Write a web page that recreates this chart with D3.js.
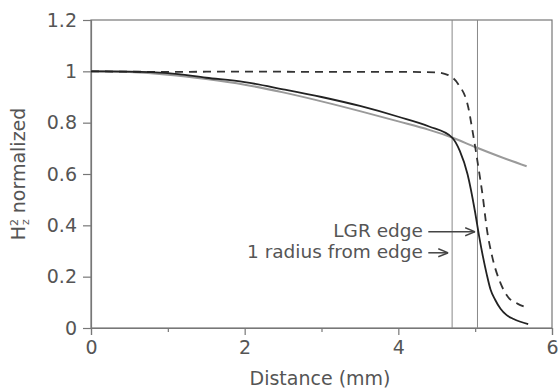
<!DOCTYPE html>
<html>
<head>
<meta charset="utf-8">
<script src="https://cdn.jsdelivr.net/npm/d3@7"></script>
<style>
  body { margin: 0; background: #fff; }
  text { font-family: "DejaVu Sans", sans-serif; fill: #555; }
</style>
</head>
<body>
<svg width="558" height="389"></svg>
<script>
// black solid curve
var solidX = [0, 0.5, 1, 1.5, 2, 2.5, 3, 3.5, 4, 4.4, 4.7, 4.8, 4.9, 5.0, 5.05, 5.1, 5.15, 5.2, 5.26, 5.33, 5.41, 5.5, 5.69];
var solidY = [1, 0.999, 0.993, 0.975, 0.958, 0.93, 0.9, 0.865, 0.823, 0.785, 0.742, 0.69, 0.6, 0.45, 0.36, 0.28, 0.21, 0.15, 0.11, 0.075, 0.05, 0.035, 0.015];
// gray solid curve
var grayX = [0, 0.5, 1, 1.5, 2, 2.5, 3, 3.5, 4, 4.4, 4.7, 5.0, 5.3, 5.67];
var grayY = [1, 0.997, 0.987, 0.97, 0.948, 0.918, 0.883, 0.845, 0.805, 0.772, 0.742, 0.705, 0.67, 0.63];
// dashed curve
var dashX = [0, 1, 2, 3, 4, 4.5, 4.65, 4.78, 4.91, 4.97, 5.04, 5.1, 5.15, 5.22, 5.33, 5.43, 5.55, 5.67];
var dashY = [1, 0.998, 0.999, 0.998, 0.998, 0.996, 0.985, 0.95, 0.86, 0.76, 0.63, 0.51, 0.39, 0.28, 0.175, 0.12, 0.095, 0.08];

var edges = [4.7, 5.03];
var xTicks = [0, 2, 4, 6];
var xMinor = [1, 3, 5];
var yTicks = [0, 0.2, 0.4, 0.6, 0.8, 1, 1.2];
var yTickLabels = ["0", "0.2", "0.4", "0.6", "0.8", "1", "1.2"];

var svg = d3.select("svg");
var x = d3.scaleLinear().domain([0, 6]).range([91, 552]);
var y = d3.scaleLinear().domain([0, 1.2]).range([328, 20]);

var axisColor = "#777";

// frame
svg.append("rect")
    .attr("x", x(0)).attr("y", y(1.2))
    .attr("width", x(6) - x(0)).attr("height", y(0) - y(1.2))
    .attr("fill", "none").attr("stroke", axisColor).attr("stroke-width", 1.2);

// vertical edge lines
svg.selectAll(".edge").data(edges).enter().append("line")
    .attr("x1", function(d) { return x(d); }).attr("x2", function(d) { return x(d); })
    .attr("y1", y(1.2)).attr("y2", y(0))
    .attr("stroke", "#888").attr("stroke-width", 1);

// axes
svg.append("g").attr("transform", "translate(0," + y(0) + ")")
    .call(d3.axisBottom(x).tickValues(xTicks).tickSize(7).tickPadding(6).tickFormat(d3.format("d")));
svg.append("g").attr("transform", "translate(0," + y(0) + ")")
    .call(d3.axisBottom(x).tickValues(xMinor).tickSize(4).tickFormat(""))
    .call(function(g) { g.select(".domain").remove(); });
svg.append("g").attr("transform", "translate(" + x(0) + ",0)")
    .call(d3.axisLeft(y).tickValues(yTicks).tickSize(8).tickPadding(6)
      .tickFormat(function(d, i) { return yTickLabels[i]; }));

svg.selectAll(".domain").attr("stroke", axisColor).attr("stroke-width", 1.2);
svg.selectAll(".tick line").attr("stroke", axisColor).attr("stroke-width", 1.2);
svg.selectAll(".tick text").style("font-size", "19px").style("font-family", "DejaVu Sans, sans-serif").attr("fill", "#555");

var line = d3.line()
    .x(function(d) { return x(d[0]); })
    .y(function(d) { return y(d[1]); })
    .curve(d3.curveMonotoneX);

svg.append("path")
    .datum(grayX.map(function(v, i) { return [v, grayY[i]]; }))
    .attr("d", line).attr("fill", "none").attr("stroke", "#9a9a9a").attr("stroke-width", 2);
svg.append("path")
    .datum(dashX.map(function(v, i) { return [v, dashY[i]]; }))
    .attr("d", line).attr("fill", "none").attr("stroke", "#333").attr("stroke-width", 1.8)
    .attr("stroke-dasharray", "8,6");
svg.append("path")
    .datum(solidX.map(function(v, i) { return [v, solidY[i]]; }))
    .attr("d", line).attr("fill", "none").attr("stroke", "#222").attr("stroke-width", 1.8);

// annotations
svg.append("defs").append("marker")
    .attr("id", "arr").attr("viewBox", "0 0 10 10").attr("refX", 10).attr("refY", 5)
    .attr("markerWidth", 10).attr("markerHeight", 10).attr("markerUnits", "userSpaceOnUse")
    .attr("orient", "auto")
  .append("path").attr("d", "M0,1 L10,5 L0,9").attr("fill", "none").attr("stroke", "#444").attr("stroke-width", 1.5);

var notes = [
  { label: "LGR edge", x0: 4.39, x1: 5.0, yv: 0.375 },
  { label: "1 radius from edge", x0: 4.39, x1: 4.65, yv: 0.293 }
];
notes.forEach(function(n) {
  svg.append("text").attr("x", x(4.32)).attr("y", y(n.yv) + 5).attr("text-anchor", "end")
      .style("font-size", "18.5px").text(n.label);
  svg.append("line").attr("x1", x(n.x0)).attr("x2", x(n.x1)).attr("y1", y(n.yv)).attr("y2", y(n.yv))
      .attr("stroke", "#444").attr("stroke-width", 1.5).attr("marker-end", "url(#arr)");
});

// axis labels
svg.append("text").attr("x", 320).attr("y", 385).attr("text-anchor", "middle")
    .style("font-size", "19px").text("Distance (mm)");

var yl = svg.append("text").attr("transform", "translate(25,174) rotate(-90)")
    .attr("text-anchor", "middle").style("font-size", "19px");
yl.append("tspan").text("H");
yl.append("tspan").attr("dy", -7).style("font-size", "11px").text("2");
yl.append("tspan").attr("dx", -6).attr("dy", 11).style("font-size", "11px").text("z");
yl.append("tspan").attr("dy", -4).text(" normalized");
</script>
</body>
</html>
